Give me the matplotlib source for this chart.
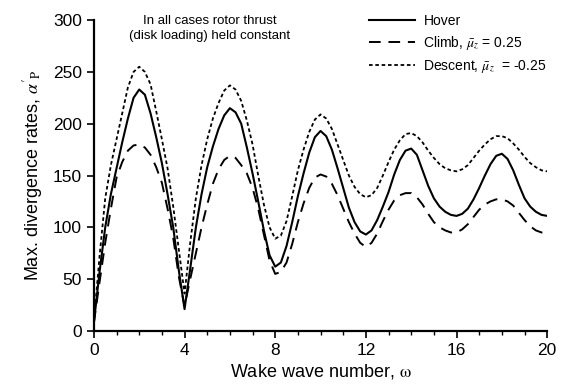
import matplotlib
matplotlib.use("Agg")
import matplotlib.pyplot as plt

# wake wave number samples (quarter steps)
OMEGA = [i * 0.25 for i in range(81)]
HOVER = [8, 57, 100, 132, 157, 182, 205, 225, 233, 228, 210, 187, 162, 132, 100, 58,
         21, 60, 100, 132, 158, 178, 195, 208, 215, 211, 200, 177, 152, 125, 97, 73,
         62, 66, 82, 105, 130, 152, 172, 187, 193, 188, 175, 157, 138, 119, 105, 96,
         93, 97, 107, 120, 134, 151, 165, 174, 176, 170, 155, 140, 128, 120, 115, 112,
         111, 113, 118, 127, 138, 150, 161, 169, 171, 166, 155, 141, 128, 120, 115, 112,
         111]
CLIMB = [8, 47, 85, 118, 148, 163, 174, 179, 180, 177, 170, 158, 143, 118, 90, 52,
         24, 50, 75, 100, 122, 142, 156, 165, 169, 167, 160, 152, 138, 118, 93, 68,
         55, 57, 66, 84, 105, 123, 138, 148, 151, 149, 142, 131, 118, 105, 94, 85,
         81, 85, 94, 106, 117, 126, 131, 133, 133, 129, 122, 113, 105, 100, 97, 95,
         95, 98, 103, 110, 117, 122, 125, 127, 127, 125, 121, 114, 107, 101, 97, 95,
         94]
DESCENT = [9, 72, 128, 160, 185, 210, 235, 250, 255, 250, 238, 212, 185, 157, 120, 78,
           36, 85, 128, 160, 185, 205, 220, 232, 237, 233, 222, 203, 180, 150, 122, 100,
           89, 92, 106, 130, 155, 175, 192, 204, 209, 205, 195, 180, 165, 150, 139, 132,
           129, 131, 138, 150, 163, 175, 184, 190, 191, 188, 182, 174, 167, 161, 157, 155,
           154, 156, 160, 167, 174, 180, 185, 188, 188, 186, 181, 175, 168, 162, 158, 155,
           154]

plt.rcParams["font.family"] = ["Liberation Sans", "DejaVu Sans"]
plt.rcParams["mathtext.fontset"] = "stix"

fig = plt.figure(figsize=(5.76, 3.87), dpi=100)
ax = fig.add_axes([0.163, 0.145, 0.787, 0.803])

ax.plot(OMEGA, HOVER, "-", color="black", lw=1.5, label="Hover")
ax.plot(OMEGA, CLIMB, color="black", lw=1.4, dashes=(6, 4),
        label=r"Climb, $\bar{\mu}_z$ = 0.25")
ax.plot(OMEGA, DESCENT, color="black", lw=1.3, dashes=(2, 1.5),
        label=r"Descent, $\bar{\mu}_z$  = -0.25")

ax.set_xlim(0, 20)
ax.set_ylim(0, 300)
ax.set_xticks(range(0, 21, 4))
ax.set_xticks(range(0, 21, 1), minor=True)
ax.set_yticks(range(0, 301, 50))
ax.tick_params(labelsize=12.5, length=5, width=1.2, direction="out")
ax.tick_params(which="minor", length=3, width=1)
for s in ["top", "right"]:
    ax.spines[s].set_visible(False)
for s in ["left", "bottom"]:
    ax.spines[s].set_linewidth(1.6)

ax.set_xlabel(r"Wake wave number, $\mathrm{\omega}$", fontsize=13, labelpad=3)
ax.set_ylabel(r"Max. divergence rates, $\alpha'_{\mathrm{P}}$", fontsize=13, labelpad=6)

ax.text(5.1, 292, "In all cases rotor thrust\n(disk loading) held constant",
        ha="center", va="center", fontsize=9.5, linespacing=1.25, clip_on=False)

ax.legend(loc="upper left", bbox_to_anchor=(0.58, 1.06), frameon=False, fontsize=10,
          handlelength=3.3, handletextpad=0.6, labelspacing=0.45)

fig.savefig("out.png", dpi=100)
